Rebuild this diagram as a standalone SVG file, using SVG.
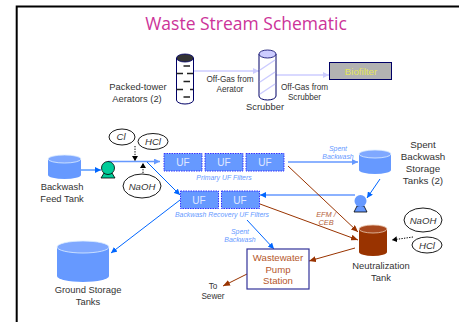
<svg xmlns="http://www.w3.org/2000/svg" width="459" height="322" viewBox="0 0 459 322">
<defs>
<marker id="ab" markerUnits="userSpaceOnUse" markerWidth="7" markerHeight="6" refX="6" refY="3" orient="auto"><path d="M0 0L6 3L0 6z" fill="#0066ff"/></marker>
<marker id="al" markerUnits="userSpaceOnUse" markerWidth="7" markerHeight="6" refX="6" refY="3" orient="auto"><path d="M0 0L6 3L0 6z" fill="#6699ff"/></marker>
<marker id="ag" markerUnits="userSpaceOnUse" markerWidth="7" markerHeight="6" refX="6" refY="3" orient="auto"><path d="M0 0L6 3L0 6z" fill="#ccccff"/></marker>
<marker id="ar" markerUnits="userSpaceOnUse" markerWidth="8" markerHeight="6" refX="7" refY="3" orient="auto"><path d="M0 0L7 3L0 6z" fill="#993300"/></marker>
<marker id="ak" markerUnits="userSpaceOnUse" markerWidth="6" markerHeight="6" refX="5" refY="3" orient="auto"><path d="M0 0L5 3L0 6z" fill="#000"/></marker>
</defs>
<style>
text{font-family:"Liberation Sans",Arial,sans-serif;text-anchor:middle}
.l{font-size:9.4px;fill:#333}
.s{font-size:8.2px;fill:#333}
.c{font-size:6.9px;font-style:italic;fill:#6699ff}
.b{font-size:7.4px;font-style:italic;fill:#b5623a}
.w{font-size:9.6px;fill:#b5562a}
.uf{fill:#6699ff;stroke:#3333ff;stroke-width:1;stroke-dasharray:1.5 1}
.uft{font-size:10px;fill:#e0e8ff}
.e{fill:#fff;stroke:#000;stroke-width:.9}
.et{font-size:9.600px;font-style:italic;fill:#333}
.tb{fill:#6699ff}
.tt{fill:#7fa8ff;stroke:#ddeeff;stroke-width:.8}
.lb{fill:none;stroke:#0066ff;stroke-width:1}
.ll{fill:none;stroke:#6699ff;stroke-width:1.3}
.lg{fill:none;stroke:#ccccff;stroke-width:1.5}
.lr{fill:none;stroke:#993300;stroke-width:1}
.ld{fill:none;stroke:#000;stroke-width:1;stroke-dasharray:1.3 1.3}
</style>
<path id="frame" d="M16.700 322V6.500H459" fill="none" stroke="#000" stroke-width="2"/>
<text id="title" x="246" y="30" style="font-family:'Open Sans',sans-serif;font-size:17.500px;fill:#cc3399">Waste Stream Schematic</text>
<g id="connectors">
<path class="lg" d="M193 71H259" marker-end="url(#ag)"/>
<path class="lg" d="M276 75H329" marker-end="url(#ag)"/>
<path class="lb" d="M81 170H101" marker-end="url(#ab)"/>
<path class="ll" d="M108 161.500H160" marker-end="url(#al)"/>
<path class="lb" d="M147 162L180 195" marker-end="url(#ab)"/>
<path class="lb" d="M180 200L111 253" marker-end="url(#ab)"/>
<path class="ll" d="M288 162H358" marker-end="url(#al)"/>
<path class="lb" d="M380 179L367 198" marker-end="url(#ab)"/>
<path class="ll" d="M355 195H260" marker-end="url(#ab)"/>
<path class="lb" d="M247 220L274 249" marker-end="url(#ab)"/>
<path class="lr" d="M288 166L358 232" marker-end="url(#ar)"/>
<path class="lr" d="M260 204L358 240" marker-end="url(#ar)"/>
<path class="lr" d="M355 248L309 261" marker-end="url(#ar)"/>
<path class="lr" d="M247 274L223 286" marker-end="url(#ar)"/>
<path class="ld" d="M135 146V161" marker-end="url(#ak)"/>
<path class="ld" d="M143 173V163" marker-end="url(#ak)"/>
<path class="ld" d="M413 237L392 240" marker-end="url(#ak)"/>
</g>
<g id="aerators">
<path d="M176.500 58V100A8.500 4 0 0 0 193.500 100V58" fill="#fff" stroke="#000066" stroke-width="1"/>
<ellipse cx="185" cy="58" rx="8.500" ry="4" fill="#333" stroke="#000066" stroke-width=".8"/>
<path d="M183.500 66H190M176.500 73.500H183M187 73.500H193M183.500 81.500H190M176.500 89.500H183M190 89.500H193M183.500 97H190" stroke="#222" stroke-width="1.600"/>
<text class="l" x="138" y="90">Packed-tower</text><text class="l" x="137" y="102">Aerators (2)</text>
</g>
<text class="s" x="230" y="82">Off-Gas from</text><text class="s" x="230" y="92">Aerator</text>
<g id="scrubber">
<path d="M259 54V96A8.500 4 0 0 0 276 96V54" fill="#fff" stroke="#000066" stroke-width="1"/>
<path d="M260 70L275 60M260 82L275 72M260 94L275 84" stroke="#ccccff" stroke-width="1.500"/>
<ellipse cx="267.500" cy="54" rx="8.500" ry="4" fill="#ccccff" stroke="#000066" stroke-width=".8"/>
<text class="l" x="265" y="110">Scrubber</text>
</g>
<text class="s" x="304.500" y="90">Off-Gas from</text><text class="s" x="304.500" y="100">Scrubber</text>
<g id="biofilter">
<rect x="329.500" y="62.500" width="62" height="17" fill="#b2b2b2" stroke="#000066"/>
<text x="361" y="74.500" style="font-size:9.700px;fill:#e6e65c">Biofilter</text>
</g>
<g id="cl"><ellipse class="e" cx="122" cy="137" rx="13" ry="8"/><text class="et" x="121" y="140">Cl</text></g>
<g id="hcl1"><ellipse class="e" cx="153" cy="141.500" rx="15" ry="8"/><text class="et" x="153" y="145">HCl</text></g>
<g id="naoh1"><ellipse class="e" cx="142" cy="186" rx="19" ry="12"/><text class="et" x="142" y="189.500">NaOH</text></g>
<g id="feed">
<path class="tb" d="M48 159V175A16.500 4 0 0 0 81 175V159z"/>
<ellipse class="tt" cx="64.500" cy="159" rx="16.500" ry="4"/>
<text class="l" x="62" y="190">Backwash</text><text class="l" x="62" y="202">Feed Tank</text>
</g>
<g id="pump1">
<path d="M104 173H112L115 178H101z" fill="#00cc99" stroke="#000" stroke-width=".8"/>
<circle cx="108" cy="168" r="6.500" fill="#00cc99" stroke="#000" stroke-width=".8"/>
</g>
<g id="primary">
<rect class="uf" x="164" y="153.500" width="38" height="17.500"/><text class="uft" x="183" y="166">UF</text>
<rect class="uf" x="205" y="153.500" width="38" height="17.500"/><text class="uft" x="224" y="166">UF</text>
<rect class="uf" x="246" y="153.500" width="38" height="17.500"/><text class="uft" x="265" y="166">UF</text>
<text class="c" x="224" y="180">Primary UF Filters</text>
</g>
<g id="recovery">
<rect class="uf" x="180.500" y="191" width="38" height="17.500"/><text class="uft" x="199" y="203.500">UF</text>
<rect class="uf" x="221.500" y="191" width="38" height="17.500"/><text class="uft" x="240" y="203.500">UF</text>
<text class="c" x="222" y="217">Backwash Recovery UF Filters</text>
</g>
<text class="c" x="338" y="151">Spent</text><text class="c" x="338" y="159">Backwash</text>
<g id="spent">
<path class="tb" d="M359 154V170A16 4 0 0 0 391 170V154z"/>
<ellipse class="tt" cx="375" cy="154" rx="16" ry="4"/>
<text class="l" x="423" y="148" style="font-size:9.800px">Spent</text><text class="l" x="423" y="160" style="font-size:9.800px">Backwash</text><text class="l" x="423" y="172" style="font-size:9.800px">Storage</text><text class="l" x="423" y="184" style="font-size:9.800px">Tanks (2)</text>
</g>
<g id="pump2">
<path d="M357 206H364L367 212H354z" fill="#6699ff" stroke="#000" stroke-width=".8"/>
<circle cx="360.500" cy="201" r="6" fill="#6699ff"/>
</g>
<text class="b" x="326" y="217">EFM /</text><text class="b" x="326" y="225">CEB</text>
<g id="neutral">
<path d="M359 229V252A14 4 0 0 0 387 252V229z" fill="#993300"/>
<ellipse cx="373" cy="229" rx="14" ry="4" fill="#a8481e" stroke="#e8c8b0" stroke-width=".8"/>
<text class="l" x="381" y="269">Neutralization</text><text class="l" x="381" y="281">Tank</text>
</g>
<g id="naoh2"><ellipse class="e" cx="423" cy="220" rx="19" ry="12"/><text class="et" x="423" y="223.500">NaOH</text></g>
<g id="hcl2"><ellipse class="e" cx="427" cy="245" rx="15" ry="8"/><text class="et" x="427" y="248.500">HCl</text></g>
<g id="ground">
<path class="tb" d="M57 247V276A26 6 0 0 0 109 276V247z"/>
<ellipse class="tt" cx="83" cy="247" rx="26" ry="6"/>
<text class="l" x="88" y="293">Ground Storage</text><text class="l" x="88" y="305">Tanks</text>
</g>
<text class="c" x="240" y="234">Spent</text><text class="c" x="240" y="242">Backwash</text>
<g id="wwps">
<rect x="247" y="249" width="62" height="40" fill="#fff" stroke="#333399" stroke-width="1.200"/>
<text class="w" x="278" y="261">Wastewater</text><text class="w" x="278" y="273">Pump</text><text class="w" x="278" y="284">Station</text>
</g>
<text class="s" x="213" y="289">To</text><text class="s" x="213" y="299">Sewer</text>
</svg>
